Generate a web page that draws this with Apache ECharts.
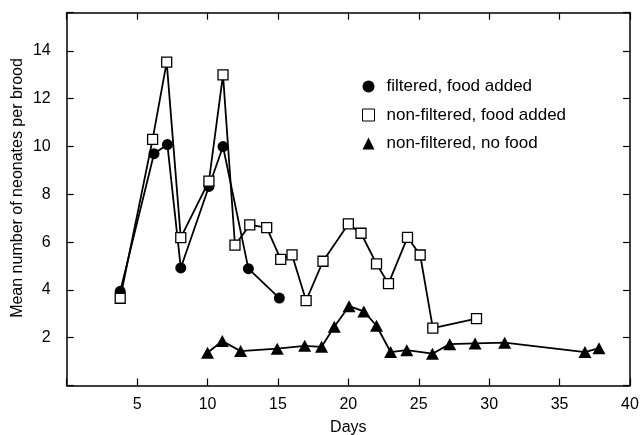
<!DOCTYPE html>
<html>
<head>
<meta charset="utf-8">
<script src="https://cdn.jsdelivr.net/npm/echarts@6/dist/echarts.min.js"></script>
<style>html,body{margin:0;padding:0;background:#fff}#c{width:640px;height:435px}</style>
</head>
<body>
<div id="c"></div>
<script>
var seriesNames = ['filtered, food added', 'non-filtered, food added', 'non-filtered, no food'];
var filteredFood = [[3.8,3.94],[6.2,9.7],[7.15,10.08],[8.1,4.92],[10.1,8.33],[11.1,10.0],[12.9,4.89],[15.1,3.66]];
var nonFilteredFood = [[3.8,3.65],[6.1,10.3],[7.1,13.53],[8.1,6.19],[10.1,8.55],[11.1,13.0],[11.95,5.87],[13.0,6.72],[14.2,6.61],[15.2,5.28],[16.0,5.47],[17.0,3.55],[18.2,5.2],[20.0,6.76],[20.9,6.37],[22.0,5.09],[22.85,4.26],[24.2,6.2],[25.1,5.46],[26.0,2.4],[29.1,2.8]];
var nonFilteredNoFood = [[10.0,1.37],[11.05,1.86],[12.35,1.44],[14.95,1.54],[16.9,1.66],[18.1,1.62],[19.0,2.46],[20.05,3.32],[21.1,3.1],[22.0,2.5],[23.0,1.4],[24.15,1.48],[25.97,1.33],[27.2,1.73],[29.0,1.76],[31.1,1.79],[36.8,1.40],[37.8,1.56]];
var xTickLabels = [5,10,15,20,25,30,35,40];
var yTickLabels = [2,4,6,8,10,12,14];
var xTitle = 'Days';
var yTitle = 'Mean number of neonates per brood';

var FONT = '"Liberation Sans", Arial, sans-serif';
var chart = echarts.init(document.getElementById('c'), null, {renderer:'canvas'});
function axisLine(){ return {show:true, onZero:false, lineStyle:{color:'#000', width:1.5}}; }
function tick(){ return {show:true, inside:true, length:7, lineStyle:{color:'#000', width:1.2}}; }
function xfmt(v){ return xTickLabels.indexOf(v) >= 0 ? String(v) : ''; }
function yfmt(v){ return yTickLabels.indexOf(v) >= 0 ? String(v) : ''; }

chart.setOption({
  animation:false,
  backgroundColor:'#fff',
  grid:{left:66.7, right:10, top:12.7, bottom:49.5, containLabel:false, outerBoundsMode:'none'},
  legend:{
    orient:'vertical', left:362, top:78, padding:0, itemGap:11.5,
    itemWidth:12, itemHeight:12,
    textStyle:{fontFamily:FONT, fontSize:17, color:'#000', padding:[0,0,0,7]},
    data:[
      {name:seriesNames[0], icon:'circle', itemStyle:{color:'#000', borderWidth:0}},
      {name:seriesNames[1], icon:'rect', itemStyle:{color:'#fff', borderColor:'#000', borderWidth:1}},
      {name:seriesNames[2], icon:'triangle', itemStyle:{color:'#000', borderWidth:0}}
    ]
  },
  xAxis:[
    {type:'value', min:0, max:40, interval:5, position:'bottom',
     axisLine:axisLine(), axisTick:tick(), splitLine:{show:false},
     axisLabel:{formatter:xfmt, fontFamily:FONT, fontSize:16, color:'#000', margin:11},
     name:xTitle, nameLocation:'middle', nameGap:34,
     nameTextStyle:{fontFamily:FONT, fontSize:16, color:'#000'}},
    {type:'value', min:0, max:40, interval:5, position:'top',
     axisLine:axisLine(), axisTick:tick(), splitLine:{show:false}, axisLabel:{show:false}}
  ],
  yAxis:[
    {type:'value', min:0, max:15.6, interval:2, position:'left',
     axisLine:axisLine(), axisTick:tick(), splitLine:{show:false},
     axisLabel:{formatter:yfmt, fontFamily:FONT, fontSize:16, color:'#000', margin:16}},
    {type:'value', min:0, max:15.6, interval:2, position:'right',
     axisLine:axisLine(), axisTick:tick(), splitLine:{show:false}, axisLabel:{show:false}}
  ],
  graphic:[{
    type:'text', x:18, y:188, rotation:Math.PI/2,
    style:{text:yTitle, fontFamily:FONT, fontSize:16, fill:'#000', align:'center', verticalAlign:'middle'}
  }],
  series:[
    {name:seriesNames[0], type:'line', data:filteredFood, symbol:'circle', symbolSize:11,
     lineStyle:{color:'#000', width:1.8}, itemStyle:{color:'#000'}, z:3},
    {name:seriesNames[1], type:'line', data:nonFilteredFood, symbol:'rect', symbolSize:10,
     lineStyle:{color:'#000', width:1.8}, itemStyle:{color:'#fff', borderColor:'#000', borderWidth:1.3}, z:4},
    {name:seriesNames[2], type:'line', data:nonFilteredNoFood, symbol:'triangle', symbolSize:[13,12],
     lineStyle:{color:'#000', width:1.8}, itemStyle:{color:'#000'}, z:3}
  ]
});
</script>
</body>
</html>
